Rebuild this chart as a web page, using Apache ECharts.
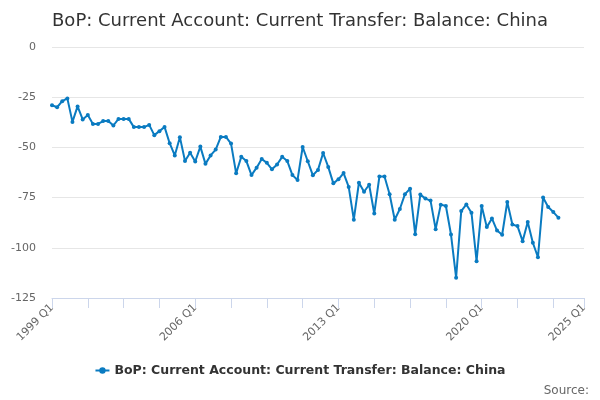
<!DOCTYPE html>
<html>
<head>
<meta charset="utf-8">
<script src="https://cdn.jsdelivr.net/npm/echarts@6/dist/echarts.min.js"></script>
<style>
  html, body { margin: 0; padding: 0; background: #fff; }
  #chart { width: 600px; height: 400px; }
</style>
</head>
<body>
<div id="chart"></div>
<script>
// Category labels: quarters 1999 Q1 .. 2025 Q1
var firstYear = 1999;
var lastYear = 2025;
var quarters = [];
for (var y = firstYear; y <= lastYear; y++) {
  for (var q = 1; q <= 4; q++) {
    if (y === lastYear && q > 1) break;
    quarters.push(y + ' Q' + q);
  }
}

var seriesName = 'BoP: Current Account: Current Transfer: Balance: China';

// Values, 1999 Q1 .. 2023 Q4
var balance = [
  -29.0, -30.0, -27.0, -25.6, -37.3, -29.6, -36.1, -33.9,
  -38.3, -38.3, -36.9, -36.9, -39.1, -35.8, -35.8, -35.8,
  -39.9, -39.9, -39.9, -38.8, -43.9, -41.9, -39.8, -47.9,
  -54.0, -44.9, -56.8, -52.7, -57.0, -49.6, -58.2, -54.0,
  -51.1, -44.8, -44.8, -48.1, -62.9, -54.7, -56.8, -63.8,
  -60.1, -55.8, -57.7, -60.9, -58.5, -54.7, -56.8, -63.8,
  -66.2, -49.8, -56.9, -63.9, -61.2, -52.8, -59.7, -67.9,
  -65.9, -62.8, -69.7, -86.0, -67.6, -72.1, -68.6, -82.9,
  -64.5, -64.5, -73.3, -86.0, -80.7, -73.3, -70.6, -93.2,
  -73.5, -75.5, -76.5, -90.7, -78.5, -79.2, -93.4, -114.9,
  -81.7, -78.4, -82.5, -106.7, -79.2, -89.7, -85.4, -91.4,
  -93.5, -77.2, -88.4, -89.2, -96.7, -87.2, -97.5, -104.7,
  -75.0, -79.7, -82.2, -85.0
];

var yTicks = { min: -125, max: 0, step: 25 };

var chart = echarts.init(document.getElementById('chart'), null, { renderer: 'canvas' });
var lastIdx = quarters.length - 1;
chart.setOption({
  animation: false,
  textStyle: { fontFamily: 'DejaVu Sans' },
  title: {
    text: 'BoP: Current Account: Current Transfer: Balance: China',
    left: 'center',
    top: 7,
    textStyle: { fontSize: 18, fontWeight: 'normal', color: '#333', fontFamily: 'DejaVu Sans' }
  },
  legend: {
    bottom: 18,
    left: 'center',
    itemWidth: 14,
    itemHeight: 8,
    itemGap: 6,
    textStyle: { fontSize: 12.5, fontWeight: 'bold', color: '#333', fontFamily: 'DejaVu Sans' },
    data: [seriesName]
  },
  graphic: [{
    type: 'text',
    right: 11,
    bottom: 3,
    style: { text: 'Source:', fontSize: 12, fill: '#666', fontFamily: 'DejaVu Sans' }
  }],
  grid: { left: 52, right: 16, top: 47, bottom: 102 },
  xAxis: {
    type: 'category',
    data: quarters,
    boundaryGap: false,
    position: 'bottom',
    axisLine: { onZero: false, lineStyle: { color: '#ccd6eb', width: 1 } },
    axisTick: {
      show: true,
      length: 10,
      lineStyle: { color: '#ccd6eb' },
      interval: function (i) { return i % 7 === 0 || i === lastIdx; }
    },
    axisLabel: {
      rotate: 45,
      fontSize: 11,
      color: '#666',
      margin: 8,
      interval: function (i) { return i % 28 === 0 || i === lastIdx; }
    },
    splitLine: { show: false }
  },
  yAxis: {
    type: 'value',
    min: yTicks.min,
    max: yTicks.max,
    interval: yTicks.step,
    axisLine: { show: false },
    axisTick: { show: false },
    axisLabel: { fontSize: 11, color: '#666', margin: 16 },
    splitLine: { lineStyle: { color: '#e6e6e6' } }
  },
  series: [{
    name: seriesName,
    type: 'line',
    data: balance,
    symbol: 'circle',
    symbolSize: 4,
    showAllSymbol: true,
    lineStyle: { color: '#0a7bc1', width: 2 },
    itemStyle: { color: '#0a7bc1' }
  }]
});
</script>
</body>
</html>
